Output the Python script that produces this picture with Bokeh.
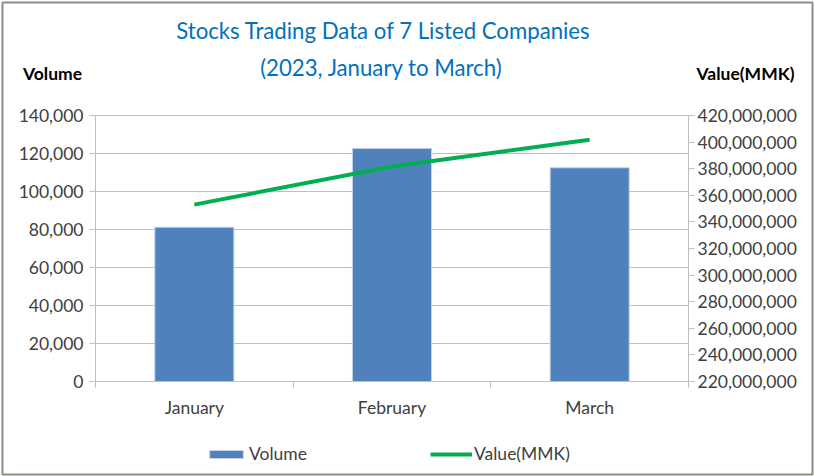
from bokeh.plotting import figure
from bokeh.models import (Range1d, LinearAxis, FixedTicker, NumeralTickFormatter, Label,
                          Legend, LegendItem, ColumnDataSource)
from bokeh.embed import file_html
from bokeh.resources import INLINE

# ---- data ----
months = ["January", "February", "March"]
volume = [81200, 122700, 112500]
value_mmk = [353000000, 381700000, 401700000]
left_ticks = [0, 20000, 40000, 60000, 80000, 100000, 120000, 140000]
right_ticks = [220000000, 240000000, 260000000, 280000000, 300000000, 320000000,
               340000000, 360000000, 380000000, 400000000, 420000000]

title1 = "Stocks Trading Data of 7 Listed Companies"
title2 = "(2023, January to March)"
left_title = "Volume"
right_title = "Value(MMK)"

# ---- layout (canvas pixels) ----
W, H = 814, 476
B = 2                      # outer border inset
PL, PR, PT, PB = 95, 688, 115, 381   # plot area edges on canvas
FONT = "Lato"
TXT = "#404040"
AX = "#bfbfbf"
FS = "17.5px"

n = len(months)
ux = (PR - PL) / n                                   # px per category
uy = (PB - PT) / (left_ticks[-1] - left_ticks[0])    # px per volume unit
uv = (PB - PT) / (right_ticks[-1] - right_ticks[0])  # px per MMK unit

x_range = Range1d((B - PL) / ux, (W - B - PL) / ux)
y_range = Range1d(left_ticks[0] - (H - B - PB) / uy, left_ticks[0] + (PB - B) / uy)
v_range = Range1d(right_ticks[0] - (H - B - PB) / uv, right_ticks[0] + (PB - B) / uv)

xpos = [i + 0.5 for i in range(n)]
src = ColumnDataSource(dict(x=xpos, month=months, volume=volume, value=value_mmk))
grid_src = ColumnDataSource(dict(y=left_ticks, x0=[0] * len(left_ticks),
                                 x1=[n] * len(left_ticks)))

p = figure(width=W, height=H, output_backend="svg", toolbar_location=None,
           x_range=x_range, y_range=y_range, x_axis_location=None, y_axis_location=None,
           min_border_left=B, min_border_right=B, min_border_top=B, min_border_bottom=B,
           background_fill_color="white", border_fill_color="#fcf8e8")
p.outline_line_color = "#8c8c8c"
p.outline_line_width = 2
p.extra_y_ranges = {"value": v_range}
p.xgrid.visible = False
p.ygrid.visible = False

# gridlines
p.segment(x0="x0", x1="x1", y0="y", y1="y", source=grid_src, line_color=AX, line_width=1)

# x axis (category labels centred, ticks at category boundaries)
xa = LinearAxis(fixed_location=left_ticks[0], bounds=(0, n),
                ticker=FixedTicker(ticks=xpos, minor_ticks=list(range(n + 1))))
xa.major_label_overrides = {x: m for x, m in zip(xpos, months)}
xa.major_tick_in = 0
xa.major_tick_out = 0
xa.minor_tick_in = 0
xa.minor_tick_out = 6
xa.minor_tick_line_color = AX
xa.axis_line_color = AX
xa.major_label_text_font = FONT
xa.major_label_text_font_size = FS
xa.major_label_text_color = TXT
xa.major_label_standoff = 9
p.add_layout(xa, "below")

# left axis
ya = LinearAxis(fixed_location=0, bounds=(left_ticks[0], left_ticks[-1]),
                ticker=FixedTicker(ticks=left_ticks), formatter=NumeralTickFormatter(format="0,0"))
ya.major_tick_in = 0
ya.major_tick_out = 6
ya.major_tick_line_color = AX
ya.minor_tick_line_color = None
ya.axis_line_color = AX
ya.major_label_text_font = FONT
ya.major_label_text_font_size = FS
ya.major_label_text_color = TXT
ya.major_label_standoff = 6
p.add_layout(ya, "left")

# right axis
ra = LinearAxis(y_range_name="value", fixed_location=n,
                bounds=(right_ticks[0], right_ticks[-1]),
                ticker=FixedTicker(ticks=right_ticks), formatter=NumeralTickFormatter(format="0,0"))
ra.major_tick_in = 0
ra.major_tick_out = 6
ra.major_tick_line_color = AX
ra.minor_tick_line_color = None
ra.axis_line_color = AX
ra.major_label_text_font = FONT
ra.major_label_text_font_size = FS
ra.major_label_text_color = TXT
ra.major_label_standoff = 3
p.add_layout(ra, "right")

bars = p.vbar(x="x", top="volume", bottom=left_ticks[0], width=0.4, source=src,
              fill_color="#4F81BD", line_color="#c5d3e8", line_width=1)
line = p.line(x="x", y="value", source=src, y_range_name="value",
              line_color="#00B050", line_width=4)

legend = Legend(items=[LegendItem(label=left_title, renderers=[bars]),
                       LegendItem(label=right_title, renderers=[line])],
                orientation="horizontal", location=(205 - B, H - B - 464),
                border_line_color=None, background_fill_alpha=0,
                glyph_width=42, glyph_height=10, label_standoff=2, spacing=123,
                padding=0, margin=0, label_text_font=FONT,
                label_text_font_size=FS, label_text_color=TXT)
p.add_layout(legend, "center")

def lab(text, xc, yc, size, color, style="normal"):
    p.add_layout(Label(x=xc - B, y=H - B - yc, x_units="screen", y_units="screen",
                       text=text, text_align="center", text_baseline="middle",
                       text_font=FONT, text_font_size=size,
                       text_color=color, text_font_style=style))

lab(title1, 383, 30, "22.2px", "#0070C0")
lab(title2, 381, 67, "22.2px", "#0070C0")
lab(left_title, 52, 73, FS, "black", "bold")
lab(right_title, 745, 73, FS, "black", "bold")

open("out.html", "w").write(file_html(p, INLINE))
